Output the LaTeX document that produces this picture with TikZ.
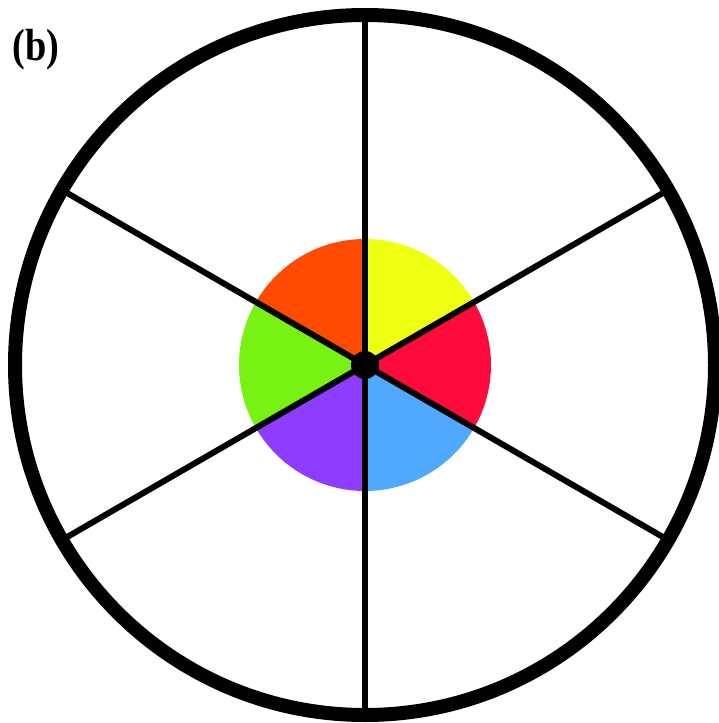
\documentclass[tikz,border=0pt]{standalone}
\usepackage{fontspec}
\setmainfont{Liberation Serif}
\usetikzlibrary{calc}
\definecolor{cOrange}{HTML}{FF4A00}
\definecolor{cYellow}{HTML}{EEFF12}
\definecolor{cRed}{HTML}{FF0A3C}
\definecolor{cBlue}{HTML}{50A8FF}
\definecolor{cPurple}{HTML}{8E3CFF}
\definecolor{cGreen}{HTML}{78F212}
\begin{document}
\begin{tikzpicture}[x=1pt,y=-1pt,
  spoke/.style={line width=6pt, line cap=butt},
  rim/.style={line width=14pt},
  label/.style={font=\fontsize{45}{48}\selectfont\bfseries, inner sep=0pt, xscale=0.85}]
\useasboundingbox (0,0) rectangle (719,723);
\coordinate (c) at (365,365);
% colored sectors (y axis flipped)
\fill[cYellow] (c) -- ++(-90:126) arc[start angle=-90,end angle=-30,radius=126] -- cycle;
\fill[cRed] (c) -- ++(-30:126) arc[start angle=-30,end angle=30,radius=126] -- cycle;
\fill[cBlue] (c) -- ++(30:126) arc[start angle=30,end angle=90,radius=126] -- cycle;
\fill[cPurple] (c) -- ++(90:126) arc[start angle=90,end angle=150,radius=126] -- cycle;
\fill[cGreen] (c) -- ++(150:126) arc[start angle=150,end angle=210,radius=126] -- cycle;
\fill[cOrange] (c) -- ++(210:126) arc[start angle=210,end angle=270,radius=126] -- cycle;
% spokes
\foreach \a/\n in {90/s1,30/s2,-30/s3,-90/s4,-150/s5,150/s6}{
  \coordinate (\n) at ($(c)+(\a:350)$);
  \draw[spoke] (c) -- (\n);
}
% rim
\draw[rim] (c) circle[radius=350];
% hub
\fill (c) circle[radius=14];
\node[label] (lab) at (36,50) {(b)};
\end{tikzpicture}
\end{document}
